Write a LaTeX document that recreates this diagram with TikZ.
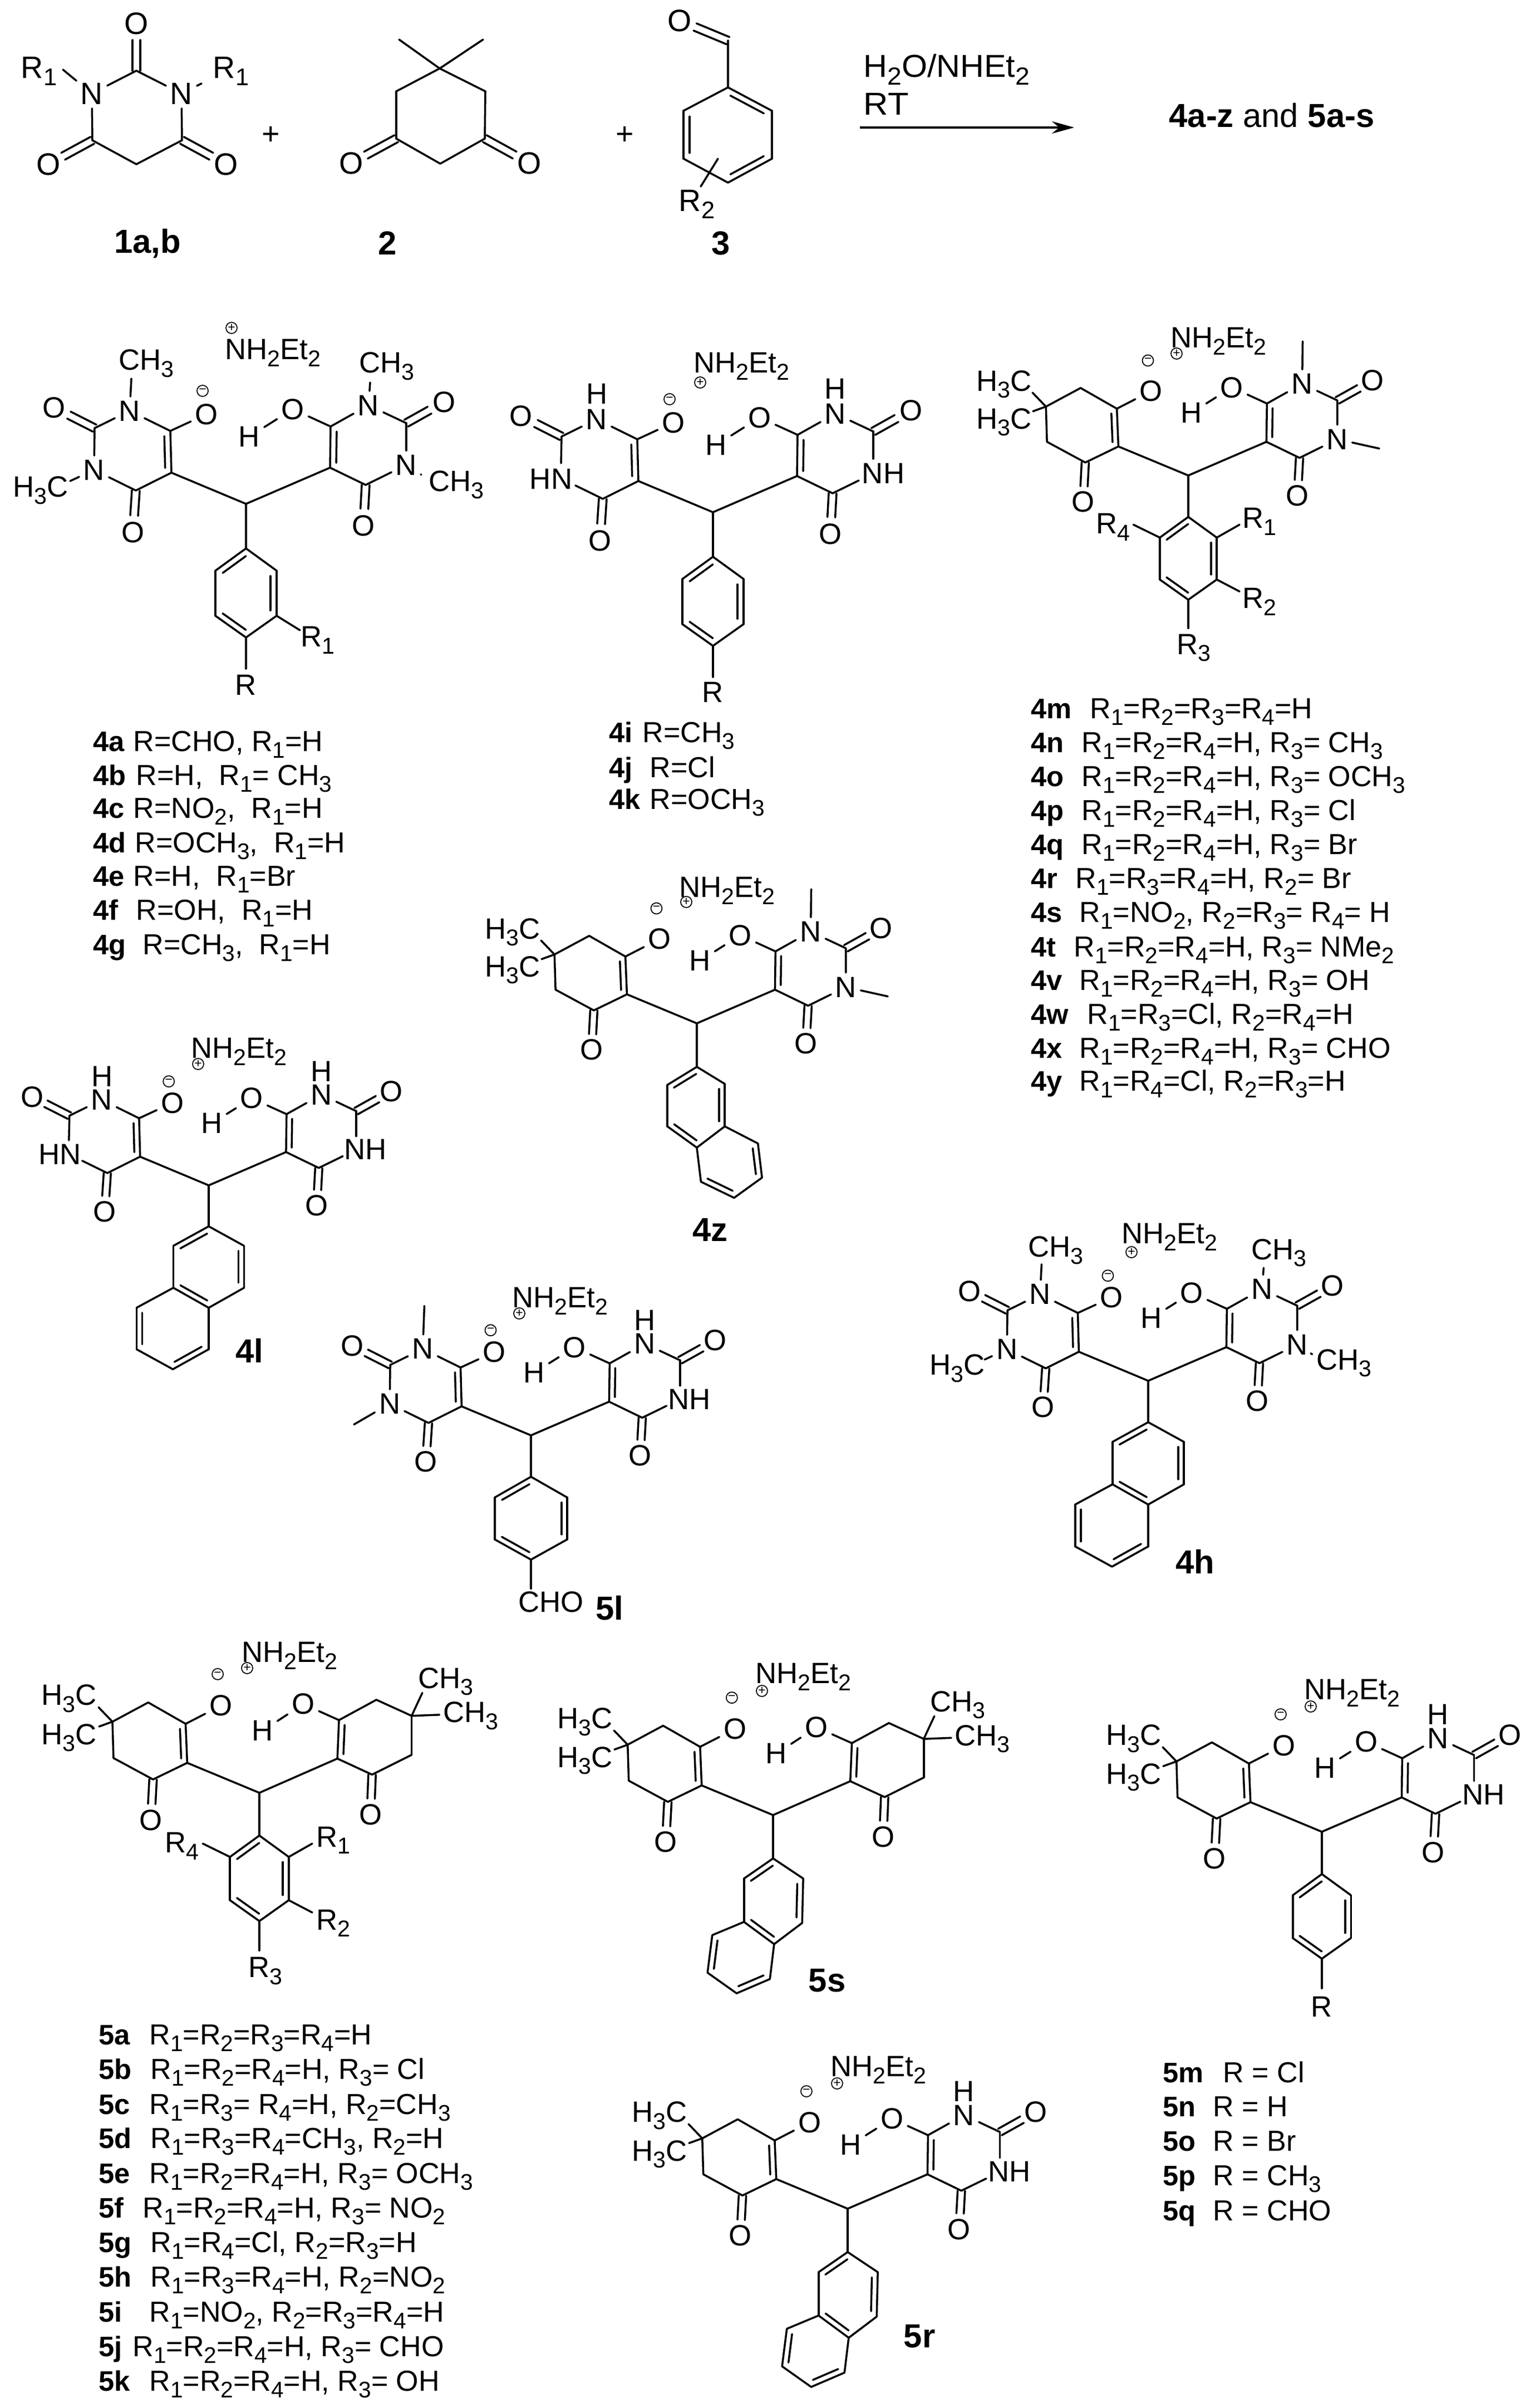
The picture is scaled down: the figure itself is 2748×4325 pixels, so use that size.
\documentclass[tikz,border=0pt]{standalone}
\usepackage{graphicx}
\usepackage{fontspec}
\setmainfont{Liberation Sans}
\usetikzlibrary{calc,arrows.meta}
\newcommand\sbb[1]{\raisebox{-.24em}{\scalebox{.78}{#1}}}
\newcommand\Ri{R\sbb{1}}
\newcommand\Rii{R\sbb{2}}
\newcommand\Riii{R\sbb{3}}
\newcommand\Riv{R\sbb{4}}
\newcommand\CHt{CH\sbb{3}}
\newcommand\HtC{H\sbb{3}C}
\newcommand\NOt{NO\sbb{2}}
\newcommand\afont{\fontsize{15}{17}\selectfont}
\tikzset{
  bond/.style={line width=1pt,line cap=round,line join=round},
  atom/.style={inner sep=.07cm,font=\afont},
  atomz/.style={inner sep=0pt,font=\afont},
  chg/.style={circle,draw,line width=.5pt,inner sep=0pt,minimum size=.2cm,font=\fontsize{6.5}{7}\selectfont},
  lab/.style={anchor=base west,inner sep=0pt,font=\fontsize{14.4}{16}\selectfont\bfseries},
  txt/.style={anchor=base west,inner sep=0pt,font=\fontsize{14.8}{16}\selectfont},
  capt/.style={inner sep=0pt,font=\fontsize{17}{19}\selectfont\bfseries},
  cond/.style={anchor=base west,inner sep=0pt,font=\fontsize{16.2}{18}\selectfont},
}
\def\pfx{}
\newcommand\ptt[2]{\coordinate (\pfx#1) at (#2);}
\newcommand\atm[3]{\node[atom] (\pfx#1) at (#2) {#3};}
\newcommand\atz[3]{\node[atomz] (\pfx#1) at (#2) {#3};}
\newcommand\bnd[2]{\draw[bond] (\pfx#1) -- (\pfx#2);}
% double bond, second line on the right of the way a->b
\newcommand\dR[2]{\draw[bond] (\pfx#1) -- (\pfx#2);
  \draw[bond] ($ ($(\pfx#1)!.12!(\pfx#2)$) !.11cm!-90:(\pfx#2) $) -- ($ ($(\pfx#1)!.88!(\pfx#2)$) !.11cm!90:(\pfx#1) $);}
% C=O double bond: carbon, oxygen
\newcommand\dO[2]{%
  \draw[bond] ($(\pfx#1)!.07cm!90:(\pfx#2)$) -- ($ ($(\pfx#2)!.30cm!(\pfx#1)$) !.07cm!-90:(\pfx#1) $);
  \draw[bond] ($(\pfx#1)!.07cm!-90:(\pfx#2)$) -- ($ ($(\pfx#2)!.30cm!(\pfx#1)$) !.07cm!90:(\pfx#1) $);}
% ---------- left barbiturate
\newcommand\barbLbase{%
  \ptt{lc5}{-134,-56}\ptt{lc6}{-136,-131}\ptt{lc2}{-272,-136}\ptt{lc4}{-198,-24}
  \atm{ln1}{-209,-167}{N}\atm{lo2}{-345,-173}{O}\atm{lo4}{-203,51}{O}\atm{lom}{-71,-161}{O}
  \node[chg] (\pfx lm) at (-78,-203) {−};
  \dR{lc6}{lc5}\bnd{lc6}{ln1}\bnd{ln1}{lc2}\bnd{lc5}{lc4}\bnd{lc6}{lom}
  \dO{lc2}{lo2}\dO{lc4}{lo4}}
\newcommand\barbLme{\barbLbase
  \atm{ln3}{-273,-61}{N}\bnd{lc2}{ln3}\bnd{ln3}{lc4}
  \atz{lme1}{-179,-252}{\CHt}\ptt{le1}{-206,-225}\bnd{ln1}{le1}
  \atz{lme3}{-369,-24}{\HtC}\ptt{le3}{-316,-41}\bnd{ln3}{le3}}
\newcommand\barbLline{\barbLbase
  \atm{ln3}{-273,-61}{N}\bnd{lc2}{ln3}\bnd{ln3}{lc4}
  \ptt{le1}{-206,-250}\bnd{ln1}{le1}\ptt{le3}{-342,-21}\bnd{ln3}{le3}}
\newcommand\barbLnh{\barbLbase
  \atz{ln3}{-291,-60}{HN}\ptt{le1}{-273,-88}\ptt{le3}{-247,-48}
  \draw[bond] (\pfx lc2) -- (\pfx le1);\draw[bond] (\pfx le3) -- (\pfx lc4);
  \atz{lh1}{-208,-213}{H}}
% ---------- left dimedone
\newcommand\dimL{%
  \ptt{lc5}{-135,-56}\ptt{lc6}{-138,-129}\ptt{lch}{-208,-169}\ptt{lcm}{-275,-133}\ptt{lcb}{-273,-65}\ptt{lco}{-199,-25}
  \atm{lo4}{-203,51}{O}\atm{lom}{-72,-163}{O}
  \node[chg] (\pfx lm) at (-78,-222) {−};
  \atz{lme1}{-356,-176}{\HtC}\atz{lme3}{-356,-103}{\HtC}
  \ptt{le1}{-301,-160}\ptt{le3}{-300,-124}
  \dR{lc6}{lc5}\bnd{lc6}{lch}\bnd{lch}{lcm}\bnd{lcm}{lcb}\bnd{lcb}{lco}\bnd{lco}{lc5}
  \bnd{lc6}{lom}\dO{lco}{lo4}\bnd{lcm}{le1}\bnd{lcm}{le3}}
% ---------- right barbiturate
\newcommand\barbRbase{%
  \ptt{rc5}{151,-65}\ptt{rc6}{152,-139}\ptt{rc2}{288,-145}\ptt{rc4}{215,-34}
  \atm{rn1}{220,-177}{N}\atm{ro2}{356,-183}{O}\atm{ro4}{211,39}{O}\atm{roh}{84,-170}{O}\atm{rh}{6,-121}{H}
  \dR{rc5}{rc6}\bnd{rc6}{rn1}\bnd{rn1}{rc2}\bnd{rc5}{rc4}\bnd{rc6}{roh}\bnd{roh}{rh}
  \dO{rc2}{ro2}\dO{rc4}{ro4}}
\newcommand\barbRme{\barbRbase
  \atm{rn3}{288,-70}{N}\bnd{rc2}{rn3}\bnd{rn3}{rc4}
  \atz{rme1}{253,-247}{\CHt}\ptt{re1}{223,-218}\bnd{rn1}{re1}
  \atz{rme3}{378,-34}{\CHt}\ptt{re3}{314,-53}\bnd{rn3}{re3}}
\newcommand\barbRline{\barbRbase
  \atm{rn3}{288,-70}{N}\bnd{rc2}{rn3}\bnd{rn3}{rc4}
  \ptt{re1}{221,-259}\bnd{rn1}{re1}\ptt{re3}{369,-52}\bnd{rn3}{re3}}
\newcommand\barbRnh{\barbRbase
  \atz{rn3}{306,-70}{NH}\ptt{re1}{288,-96}\ptt{re3}{262,-57}
  \draw[bond] (\pfx rc2) -- (\pfx re1);\draw[bond] (\pfx re3) -- (\pfx rc4);
  \atz{rh1}{220,-222}{H}}
% ---------- right dimedone
\newcommand\dimR{%
  \ptt{rc5}{146,-64}\ptt{rc6}{149,-136}\ptt{rch}{219,-174}\ptt{rcm}{285,-144}\ptt{rcb}{285,-71}\ptt{rco}{211,-34}
  \atm{ro4}{208,41}{O}\atm{roh}{82,-166}{O}\atm{rh}{6,-116}{H}
  \atz{rme1}{349,-208}{\CHt}\atz{rme3}{396,-144}{\CHt}
  \ptt{re1}{305,-187}\ptt{re3}{337,-146}
  \dR{rc5}{rc6}\bnd{rc6}{rch}\bnd{rch}{rcm}\bnd{rcm}{rcb}\bnd{rcb}{rco}\bnd{rco}{rc5}
  \bnd{rc6}{roh}\bnd{roh}{rh}\dO{rco}{ro4}\bnd{rcm}{re1}\bnd{rcm}{re3}}
% ---------- aryl
\newcommand\aryl[1]{%
  \ptt{i}{0,80}\ptt{a}{#1,120}\ptt{b}{#1,201}\ptt{c}{0,240}\ptt{d}{-#1,201}\ptt{e}{-#1,120}
  \dR{e}{i}\bnd{i}{a}\dR{a}{b}\bnd{b}{c}\dR{c}{d}\bnd{d}{e}}
\newcommand\naphA{%
  \ptt{i}{0,80}\ptt{a}{69,118}\ptt{b}{69,200}\ptt{c}{0,239}\ptt{d}{-69,200}\ptt{e}{-69,118}
  \ptt{f}{0,320}\ptt{g}{-70,359}\ptt{h}{-141,320}\ptt{j}{-141,239}
  \dR{e}{i}\bnd{i}{a}\dR{a}{b}\bnd{b}{c}\dR{c}{d}\bnd{d}{e}
  \bnd{c}{f}\dR{f}{g}\bnd{g}{h}\dR{h}{j}\bnd{j}{d}}
\newcommand\naphB{%
  \ptt{i}{0,84}\ptt{a}{54,117}\ptt{b}{54,199}\ptt{c}{0,240}\ptt{d}{-57,199}\ptt{e}{-57,119}
  \ptt{f}{118,232}\ptt{g}{126,298}\ptt{h}{72,337}\ptt{j}{8,306}
  \dR{e}{i}\bnd{i}{a}\dR{a}{b}\bnd{b}{c}\dR{c}{d}\bnd{d}{e}
  \bnd{b}{f}\dR{f}{g}\bnd{g}{h}\dR{h}{j}\bnd{j}{c}}
\newcommand\naphC{%
  \ptt{i}{0,82}\ptt{a}{57,120}\ptt{b}{55,204}\ptt{c}{2,244}\ptt{d}{-55,202}\ptt{e}{-55,120}
  \ptt{f}{-6,310}\ptt{g}{-69,337}\ptt{h}{-124,298}\ptt{j}{-115,227}
  \dR{e}{i}\bnd{i}{a}\dR{a}{b}\bnd{b}{c}\dR{c}{d}\bnd{d}{e}
  \bnd{c}{f}\dR{f}{g}\bnd{g}{h}\dR{h}{j}\bnd{j}{d}}
\newcommand\tetra{\aryl{55}
  \atz{s1}{138,89}{\Ri}\atz{s2}{138,244}{\Rii}\atz{s3}{11,333}{\Riii}\atz{s4}{-145,100}{\Riv}
  \ptt{t1}{99,95}\ptt{t2}{99,224}\ptt{t3}{0,295}\ptt{t4}{-106,95}
  \bnd{a}{t1}\bnd{b}{t2}\bnd{c}{t3}\bnd{e}{t4}}
\newcommand\core{\ptt{ch}{0,0}\bnd{lc5}{ch}\bnd{rc5}{ch}\bnd{ch}{i}}
\newcommand\ion[5]{%
  \node[atomz] (#1nh) at (#2,#3) {NH\sbb{2}Et\sbb{2}};
  \node[chg] (#1pl) at (#4,#5) {+};}
% ---------- lists
\newcommand\entry[6]{%
  \node[lab] (lab#1) at (#2,#4+18) {#5};
  \node[txt] (txt#1) at (#3,#4+18) {#6};}
\begin{document}
\begin{tikzpicture}[x=.01cm,y=-.01cm]
\path[use as bounding box] (0,0) rectangle (2748,4325);
% ===== reagents
\begingroup
\renewcommand\afont{\fontsize{15.8}{17}\selectfont}
\def\pfx{ra}
\ptt{c2}{245,127}\ptt{cl}{166,252}\ptt{cr}{327,252}\ptt{cm}{245,295}
\atm{nl}{165,168}{N}\atm{nr}{326,168}{N}\atm{ot}{245,42}{O}\atm{ol}{87,295}{O}\atm{or}{406,295}{O}
\atz{rl}{70,128}{\Ri}\atz{rr}{415,128}{\Ri}
\ptt{el}{113,125}\ptt{er}{362,150}
\bnd{c2}{nl}\bnd{c2}{nr}\bnd{nl}{cl}\bnd{nr}{cr}\bnd{cl}{cm}\bnd{cr}{cm}\dO{c2}{ot}\dO{cl}{ol}\dO{cr}{or}\bnd{nl}{el}\bnd{nr}{er}
\def\pfx{rb}
\ptt{q}{790,123}\ptt{m1}{717,71}\ptt{m2}{868,71}\ptt{l}{712,164}\ptt{r}{872,164}\ptt{cl}{712,249}\ptt{cr}{871,249}\ptt{b}{791,294}
\atm{ol}{631,293}{O}\atm{or}{951,293}{O}
\bnd{q}{m1}\bnd{q}{m2}\bnd{q}{l}\bnd{q}{r}\bnd{l}{cl}\bnd{r}{cr}\bnd{cl}{b}\bnd{cr}{b}\dO{cl}{ol}\dO{cr}{or}
\def\pfx{rc}
\atm{o}{1221,37}{O}\ptt{c}{1308,73}\ptt{i}{1308,157}\ptt{a}{1387,199}\ptt{b}{1387,285}\ptt{f}{1308,328}\ptt{d}{1228,285}\ptt{e}{1228,199}
\ptt{u}{1290,285}\ptt{v}{1259,335}\atz{r}{1252,367}{\Rii}
\dO{c}{o}\bnd{c}{i}\dR{i}{a}\bnd{a}{b}\dR{b}{f}\bnd{f}{d}\dR{d}{e}\bnd{e}{i}\bnd{u}{v}
\endgroup
\node[font=\fontsize{15.8}{17}\selectfont] (plusa) at (487,243) {+};
\node[font=\fontsize{15.8}{17}\selectfont] (plusb) at (1123,243) {+};
\node[capt] (n1ab) at (265,437) {1a,b};
\node[capt] (n2) at (696,437) {2};
\node[capt] (n3) at (1295,437) {3};
\node[cond] (cond1) at (1551,139) {\scalebox{1.04}[1]{H\sbb{2}O/NHEt\sbb{2}}};
\node[cond] (cond2) at (1551,207) {\scalebox{1.08}[1]{RT}};
\coordinate (arrs) at (1545,229);\coordinate (arre) at (1930,229);
\draw[line width=1.1pt,-{Stealth[length=.4cm,width=.22cm]}] (arrs) -- (arre);
\node[capt,font=\fontsize{17}{19}\selectfont] (prod) at (2285,207) {\textbf{4a-z} and \textbf{5a-s}};
% ===== 4a
\begin{scope}[shift={(442,905)}]\def\pfx{ma}
\barbLme\barbRme\aryl{55}\core
\atz{s1}{129,245}{\Ri}\atz{s0}{0,325}{R}\ptt{t1}{97,227}\ptt{t0}{0,296}\bnd{b}{t1}\bnd{c}{t0}
\end{scope}
\ion{ma}{490}{634}{416}{589}
% ===== 4i
\begin{scope}[shift={(1281,920)}]\def\pfx{mi}
\barbLnh\barbRnh\aryl{55}\core
\atz{s0}{0,323}{R}\ptt{t0}{0,296}\bnd{c}{t0}
\end{scope}
\ion{mi}{1332}{658}{1258}{687}
% ===== 4m
\begin{scope}[shift={(2135,854)},scale=.93]\def\pfx{mm}
\dimL\barbRline\tetra\core
\end{scope}
\ion{mm}{2189}{613}{2114}{635}
% ===== 4z
\begin{scope}[shift={(1252,1838)},scale=.93]\def\pfx{mz}
\dimL\barbRline\naphB\core
\end{scope}
\ion{mz}{1306}{1600}{1233}{1620}
\node[capt] (n4z) at (1276,2209) {4z};
% ===== 4l
\begin{scope}[shift={(375,2129)},scale=.92]\def\pfx{ml}
\barbLnh\barbRnh\naphA\core
\end{scope}
\ion{ml}{429}{1889}{356}{1911}
\node[capt] (n4l) at (448,2426) {4l};
% ===== 5l
\begin{scope}[shift={(954,2578)},scale=.93]\def\pfx{nl}
\barbLline\barbRnh\aryl{70}\core
\ptt{t0}{0,296}\bnd{c}{t0}
\end{scope}
\node[atomz] (nlcho) at (990,2877) {CHO};
\ion{nl}{1006}{2337}{933}{2359}
\node[capt] (n5l) at (1095,2888) {5l};
% ===== 4h
\begin{scope}[shift={(2063,2480)},scale=.93]\def\pfx{mh}
\barbLme\barbRme\naphA\core
\end{scope}
\ion{mh}{2101}{2222}{2033}{2249}
\node[capt] (n4h) at (2147,2805) {4h};
% ===== 5a
\begin{scope}[shift={(466,3220)},scale=.96]\def\pfx{na}
\dimL\dimR\tetra\core
\end{scope}
\ion{na}{520}{2974}{444}{2996}
% ===== 5s
\begin{scope}[shift={(1389,3260)},scale=.95]\def\pfx{ns}
\dimL\dimR\naphC\core
\end{scope}
\ion{ns}{1443}{3012}{1369}{3037}
\node[capt] (n5s) at (1486,3557) {5s};
% ===== 5m
\begin{scope}[shift={(2375,3290)},scale=.95]\def\pfx{nm}
\dimL\barbRnh\aryl{55}\core
\atz{s0}{0,331}{R}\ptt{t0}{0,296}\bnd{c}{t0}
\end{scope}
\ion{nm}{2429}{3041}{2355}{3065}
% ===== 5r
\begin{scope}[shift={(1523,3967)},scale=.95]\def\pfx{nr}
\dimL\barbRnh\naphC\core
\end{scope}
\ion{nr}{1578}{3718}{1504}{3742}
\node[capt] (n5r) at (1652,4196) {5r};
% ===== lists
\entry{4a}{167}{239}{1331}{4a}{R=CHO, \Ri=H}
\entry{4b}{167}{244}{1392}{4b}{R=H,~ \Ri= \CHt}
\entry{4c}{167}{239}{1451}{4c}{R=\NOt,~ \Ri=H}
\entry{4d}{167}{242}{1513}{4d}{R=OCH\sbb{3},~ \Ri=H}
\entry{4e}{167}{239}{1573}{4e}{R=H,~ \Ri=Br}
\entry{4f}{167}{244}{1634}{4f}{R=OH,~ \Ri=H}
\entry{4g}{167}{256}{1696}{4g}{R=\CHt,~ \Ri=H}
\entry{4i}{1094}{1154}{1315}{4i}{R=\CHt}
\entry{4j}{1094}{1167}{1378}{4j}{R=Cl}
\entry{4k}{1094}{1167}{1435}{4k}{R=OCH\sbb{3}}
\entry{4m}{1852}{1958}{1272}{4m}{\Ri=\Rii=\Riii=\Riv=H}
\entry{4n}{1852}{1943}{1333}{4n}{\Ri=\Rii=\Riv=H, \Riii= \CHt}
\entry{4o}{1852}{1943}{1394}{4o}{\Ri=\Rii=\Riv=H, \Riii= OCH\sbb{3}}
\entry{4p}{1852}{1943}{1455}{4p}{\Ri=\Rii=\Riv=H, \Riii= Cl}
\entry{4q}{1852}{1943}{1516}{4q}{\Ri=\Rii=\Riv=H, \Riii= Br}
\entry{4r}{1852}{1932}{1577}{4r}{\Ri=\Riii=\Riv=H, \Rii= Br}
\entry{4s}{1852}{1939}{1638}{4s}{\Ri=\NOt, \Rii=\Riii= \Riv= H}
\entry{4t}{1852}{1929}{1700}{4t}{\Ri=\Rii=\Riv=H, \Riii= NMe\sbb{2}}
\entry{4v}{1852}{1939}{1760}{4v}{\Ri=\Rii=\Riv=H, \Riii= OH}
\entry{4w}{1852}{1953}{1821}{4w}{\Ri=\Riii=Cl, \Rii=\Riv=H}
\entry{4x}{1852}{1939}{1882}{4x}{\Ri=\Rii=\Riv=H, \Riii= CHO}
\entry{4y}{1852}{1939}{1941}{4y}{\Ri=\Riv=Cl, \Rii=\Riii=H}
\entry{5a}{177}{268}{3654}{5a}{\Ri=\Rii=\Riii=\Riv=H}
\entry{5b}{177}{270}{3716}{5b}{\Ri=\Rii=\Riv=H, \Riii= Cl}
\entry{5c}{177}{268}{3779}{5c}{\Ri=\Riii= \Riv=H, \Rii=\CHt}
\entry{5d}{177}{270}{3840}{5d}{\Ri=\Riii=\Riv=\CHt, \Rii=H}
\entry{5e}{177}{268}{3903}{5e}{\Ri=\Rii=\Riv=H, \Riii= OCH\sbb{3}}
\entry{5f}{177}{256}{3965}{5f}{\Ri=\Rii=\Riv=H, \Riii= \NOt}
\entry{5g}{177}{270}{4027}{5g}{\Ri=\Riv=Cl, \Rii=\Riii=H}
\entry{5h}{177}{270}{4089}{5h}{\Ri=\Riii=\Riv=H, \Rii=\NOt}
\entry{5i}{177}{268}{4152}{5i}{\Ri=\NOt, \Rii=\Riii=\Riv=H}
\entry{5j}{177}{238}{4214}{5j}{\Ri=\Rii=\Riv=H, \Riii= CHO}
\entry{5k}{177}{268}{4276}{5k}{\Ri=\Rii=\Riv=H, \Riii= OH}
\entry{5m}{2089}{2197}{3722}{5m}{R = Cl}
\entry{5n}{2089}{2179}{3783}{5n}{R = H}
\entry{5o}{2089}{2179}{3845}{5o}{R = Br}
\entry{5p}{2089}{2179}{3907}{5p}{R = \CHt}
\entry{5q}{2089}{2179}{3970}{5q}{R = CHO}
\end{tikzpicture}
\end{document}
